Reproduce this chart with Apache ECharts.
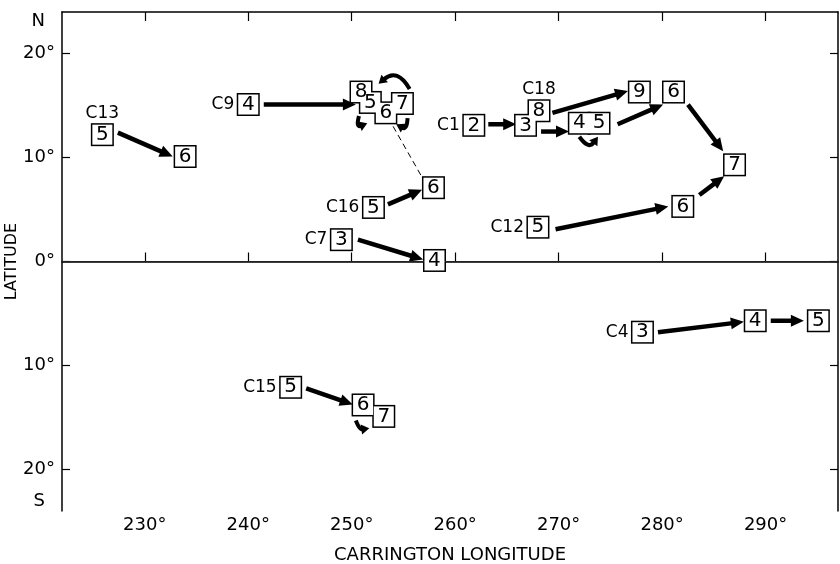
<!DOCTYPE html>
<html>
<head>
<meta charset="utf-8">
<script src="https://cdn.jsdelivr.net/npm/echarts@6/dist/echarts.min.js"></script>
<style>
html,body{margin:0;padding:0;background:#fff;}
#chart{width:840px;height:564px;}
</style>
</head>
<body>
<div id="chart"></div>
<script>
// ---- data (Carrington longitude, latitude) ----
const lonTicks = [230, 240, 250, 260, 270, 280, 290];
const latTicks = [-20, -10, 0, 10, 20];
const hemiLabels = [[23.1, 'N'], [-23.1, 'S']];

// boxes: [longitude, latitude, day number]
const boxes = [
  [225.9, 12.2, 5], [233.9, 10.1, 6],                       // C13
  [240.0, 15.1, 4],                                          // C9
  [250.9, 16.3, 8], [251.8, 15.3, 5], [253.3, 14.3, 6], [254.9, 15.2, 7], // C9 cluster
  [252.1, 5.2, 5], [257.9, 7.1, 6],                          // C16
  [249.0, 2.1, 3], [258.0, 0.1, 4],                          // C7
  [261.8, 13.1, 2], [266.8, 13.1, 3], [268.1, 14.5, 8],      // C1 / C18
  [272.0, 13.3, 4], [273.9, 13.3, 5],
  [277.8, 16.3, 9], [281.1, 16.3, 6], [287.0, 9.3, 7],
  [268.0, 3.3, 5], [282.0, 5.3, 6],                          // C12
  [278.1, -6.8, 3], [289.0, -5.7, 4], [295.1, -5.7, 5],      // C4
  [244.1, -12.1, 5], [251.1, -13.8, 6], [253.1, -14.9, 7]    // C15
];

// group labels: [text, longitude, latitude, side]
const groupLabels = [
  ['C13', 225.9, 12.2, 'top'],
  ['C9', 240.0, 15.1, 'left'],
  ['C16', 252.1, 5.2, 'left'],
  ['C7', 249.0, 2.1, 'left'],
  ['C1', 261.8, 13.1, 'left'],
  ['C18', 268.1, 14.5, 'top'],
  ['C12', 268.0, 3.3, 'left'],
  ['C4', 278.1, -6.8, 'left'],
  ['C15', 244.1, -12.1, 'left']
];

// straight arrows: [lon start, lat start, lon tip, lat tip]
const arrows = [
  [227.4, 12.4, 232.7, 10.1],
  [241.5, 15.1, 250.4, 15.1],
  [253.5, 5.5, 256.8, 6.9],
  [250.6, 2.1, 256.9, 0.2],
  [263.2, 13.2, 265.9, 13.2],
  [268.3, 12.5, 271.0, 12.5],
  [269.4, 14.3, 276.7, 16.4],
  [275.7, 13.2, 280.1, 15.1],
  [282.5, 15.1, 285.9, 10.6],
  [269.7, 3.1, 280.6, 5.3],
  [283.6, 6.4, 286.0, 8.2],
  [279.6, -6.8, 287.9, -5.8],
  [290.5, -5.7, 293.7, -5.7],
  [245.6, -12.2, 250.1, -13.75]
];

// small curved arrows: [lon start, lat start, lon tip, lat tip, bend]
const curvedArrows = [
  [255.6, 16.6, 252.6, 17.1, 0.3],
  [250.7, 14.0, 251.5, 13.3, 0.5],
  [255.4, 13.8, 254.3, 13.2, -0.4],
  [272.0, 12.0, 273.8, 12.0, 0.35],
  [250.4, -15.3, 251.7, -16.05, 0.2]
];

// dashed connector: [lon start, lat start, lon end, lat end]
const dashedLinks = [[254.0, 13.0, 256.8, 8.1]];

// ---- chart ----
const FONT = 'DejaVu Sans';
const chart = echarts.init(document.getElementById('chart'));

function arrowHead(tip, ux, uy, hl, hw) {
  const bx = tip[0] - ux * hl, by = tip[1] - uy * hl;
  return {
    base: [bx, by],
    poly: [tip, [bx - uy * hw, by + ux * hw], [bx + uy * hw, by - ux * hw]]
  };
}

function renderArrow(params, api) {
  const p1 = api.coord([api.value(0), api.value(1)]);
  const p2 = api.coord([api.value(2), api.value(3)]);
  const dx = p2[0] - p1[0], dy = p2[1] - p1[1];
  const L = Math.hypot(dx, dy) || 1;
  const ux = dx / L, uy = dy / L;
  const h = arrowHead(p2, ux, uy, 13, 6);
  return {
    type: 'group',
    children: [
      { type: 'line', shape: { x1: p1[0], y1: p1[1], x2: h.base[0] + ux * 2, y2: h.base[1] + uy * 2 },
        style: { stroke: '#000', lineWidth: 4.5 } },
      { type: 'polygon', shape: { points: h.poly }, style: { fill: '#000' } }
    ]
  };
}

function renderCurved(params, api) {
  const p1 = api.coord([api.value(0), api.value(1)]);
  const p2 = api.coord([api.value(2), api.value(3)]);
  const bend = api.value(4);
  const dx = p2[0] - p1[0], dy = p2[1] - p1[1];
  const L = Math.hypot(dx, dy) || 1;
  const px = -dy / L, py = dx / L;
  const cp = [(p1[0] + p2[0]) / 2 + px * bend * L * 2, (p1[1] + p2[1]) / 2 + py * bend * L * 2];
  const tx = p2[0] - cp[0], ty = p2[1] - cp[1];
  const TL = Math.hypot(tx, ty) || 1;
  const ux = tx / TL, uy = ty / TL;
  const h = arrowHead(p2, ux, uy, 8, 5);
  return {
    type: 'group',
    children: [
      { type: 'bezierCurve', shape: { x1: p1[0], y1: p1[1], x2: h.base[0] + ux, y2: h.base[1] + uy, cpx1: cp[0], cpy1: cp[1] },
        style: { stroke: '#000', lineWidth: 4, fill: null } },
      { type: 'polygon', shape: { points: h.poly }, style: { fill: '#000' } }
    ]
  };
}

function renderDashed(params, api) {
  const p1 = api.coord([api.value(0), api.value(1)]);
  const p2 = api.coord([api.value(2), api.value(3)]);
  return { type: 'line', shape: { x1: p1[0], y1: p1[1], x2: p2[0], y2: p2[1] },
    style: { stroke: '#000', lineWidth: 1, lineDash: [6, 4] } };
}

const axisLineStyle = { color: '#000', width: 1.5 };

const option = {
  animation: false,
  backgroundColor: '#fff',
  grid: { left: 62, right: 2, top: 12, bottom: 53, containLabel: false, outerBoundsMode: 'none' },
  xAxis: [
    {
      type: 'value', min: 222, max: 297, position: 'bottom',
      name: 'CARRINGTON LONGITUDE', nameLocation: 'middle', nameGap: 35, nameMoveOverlap: false,
      nameTextStyle: { color: '#000', fontFamily: FONT, fontSize: 18 },
      axisLine: { show: true, lineStyle: axisLineStyle },
      axisTick: { show: true, inside: true, length: 9, lineStyle: { color: '#000', width: 1.2 }, customValues: lonTicks },
      axisLabel: { show: true, customValues: lonTicks, formatter: v => v + '°', color: '#000', fontFamily: FONT, fontSize: 18, margin: 5 },
      splitLine: { show: false }
    },
    {
      type: 'value', min: 222, max: 297, position: 'top',
      axisLine: { show: true, onZero: false, lineStyle: axisLineStyle },
      axisTick: { show: true, inside: true, length: 9, lineStyle: { color: '#000', width: 1.2 }, customValues: lonTicks },
      axisLabel: { show: false },
      splitLine: { show: false }
    }
  ],
  yAxis: [
    {
      type: 'value', min: -24, max: 24, position: 'left',
      name: 'LATITUDE', nameLocation: 'middle', nameGap: 42, nameRotate: 90, nameMoveOverlap: false,
      nameTextStyle: { color: '#000', fontFamily: FONT, fontSize: 16 },
      axisLine: { show: true, onZero: false, lineStyle: axisLineStyle },
      axisTick: { show: true, inside: true, length: 8, lineStyle: { color: '#000', width: 1.2 }, customValues: latTicks },
      axisLabel: {
        show: true,
        customValues: latTicks.concat(hemiLabels.map(h => h[0])),
        formatter: v => {
          const hl = hemiLabels.find(h => Math.abs(h[0] - v) < 1e-6);
          if (hl) return '{h|' + hl[1] + '}';
          return Math.abs(v) + '°';
        },
        rich: { h: { fontFamily: FONT, fontSize: 18, color: '#000', padding: [0, 10, 0, 0] } },
        color: '#000', fontFamily: FONT, fontSize: 18, margin: 7
      },
      splitLine: { show: false }
    },
    {
      type: 'value', min: -24, max: 24, position: 'right',
      axisLine: { show: true, onZero: false, lineStyle: axisLineStyle },
      axisTick: { show: true, inside: true, length: 8, lineStyle: { color: '#000', width: 1.2 }, customValues: latTicks },
      axisLabel: { show: false },
      splitLine: { show: false }
    }
  ],
  series: [
    {
      type: 'custom', name: 'dashed', renderItem: renderDashed, data: dashedLinks,
      encode: { x: [0, 2], y: [1, 3] }, silent: true, z: 2,
      markLine: {
        silent: true, symbol: 'none', label: { show: false },
        lineStyle: { color: '#222', width: 1, type: 'solid' },
        data: [{ yAxis: 0 }]
      }
    },
    {
      type: 'custom', name: 'arrows', renderItem: renderArrow, data: arrows,
      encode: { x: [0, 2], y: [1, 3] }, silent: true, z: 3
    },
    {
      type: 'custom', name: 'curved', renderItem: renderCurved, data: curvedArrows,
      encode: { x: [0, 2], y: [1, 3] }, silent: true, z: 3
    },
    {
      type: 'scatter', name: 'boxOutline', symbol: 'rect', symbolSize: 23,
      data: boxes.map(b => [b[0], b[1]]),
      itemStyle: { color: '#000', opacity: 1 }, silent: true, z: 4
    },
    {
      type: 'scatter', name: 'boxFill', symbol: 'rect', symbolSize: 20,
      data: boxes,
      itemStyle: { color: '#fff', opacity: 1 }, silent: true, z: 5,
      label: {
        show: true, position: 'inside', formatter: p => String(p.value[2]),
        color: '#000', fontFamily: FONT, fontSize: 20
      }
    },
    {
      type: 'scatter', name: 'groups', symbol: 'rect', symbolSize: 22,
      data: groupLabels.map(g => ({
        value: [g[1], g[2]], name: g[0],
        label: { position: g[3], distance: g[3] === 'top' ? 2 : 3 }
      })),
      itemStyle: { color: 'rgba(0,0,0,0)', opacity: 1 }, silent: true, z: 6,
      label: { show: true, formatter: p => p.name, color: '#000', fontFamily: FONT, fontSize: 17 }
    }
  ]
};
chart.setOption(option);
</script>
</body>
</html>
